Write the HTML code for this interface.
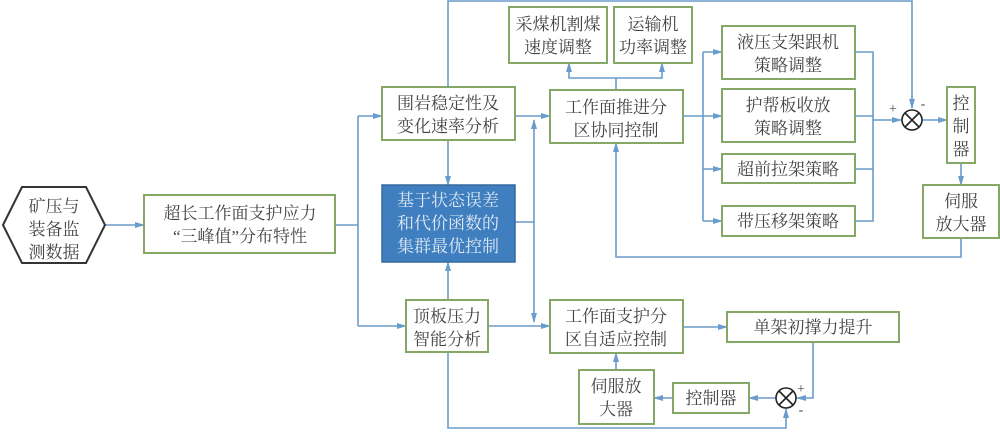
<!DOCTYPE html>
<html><head><meta charset="utf-8"><style>
body{margin:0;background:#fff;width:1000px;height:430px;overflow:hidden}
svg text{font-family:"Liberation Serif","Noto Serif CJK SC",serif;font-size:17px;fill:#444;text-anchor:middle}
.b{fill:#fff;stroke:#86a866;stroke-width:2}
.l{fill:none;stroke:#6a9ccc;stroke-width:1.6}
</style></head><body>
<svg width="1000" height="430" viewBox="0 0 1000 430">
<defs><marker id="a" markerWidth="10" markerHeight="8" refX="9" refY="4" orient="auto" markerUnits="userSpaceOnUse"><path d="M0,1 L10,4 L0,7 Z" fill="#6a9ccc"/></marker></defs>
<g class="l">
<path d="M105,225 H144" marker-end="url(#a)"/>
<path d="M335,225 H358 M358,116 V326"/>
<path d="M358,116 H382" marker-end="url(#a)"/>
<path d="M358,326 H406" marker-end="url(#a)"/>
<path d="M448,140 V185" marker-end="url(#a)"/>
<path d="M448,300 V262" marker-end="url(#a)"/>
<path d="M515,222 H534 M534,222 V120" marker-end="url(#a)"/>
<path d="M534,222 V322" marker-end="url(#a)"/>
<path d="M515,116 H550" marker-end="url(#a)"/>
<path d="M488,326 H550" marker-end="url(#a)"/>
<path d="M448,87 V1 H912 V108" marker-end="url(#a)"/>
<path d="M616,90 V78 H569 V63" marker-end="url(#a)"/>
<path d="M616,78 H662 V63" marker-end="url(#a)"/>
<path d="M683,116 H703 M703,52 V221"/>
<path d="M703,52 H722" marker-end="url(#a)"/>
<path d="M703,116 H722" marker-end="url(#a)"/>
<path d="M703,169 H722" marker-end="url(#a)"/>
<path d="M703,221 H722" marker-end="url(#a)"/>
<path d="M855,52 H873 V221 H855 M855,116 H873 M855,169 H873"/>
<path d="M873,120 H901" marker-end="url(#a)"/>
<path d="M923,120 H947" marker-end="url(#a)"/>
<path d="M961,163 V185" marker-end="url(#a)"/>
<path d="M961,238 V257 H616 V143" marker-end="url(#a)"/>
<path d="M683,327 H727" marker-end="url(#a)"/>
<path d="M813,342 V398 H797" marker-end="url(#a)"/>
<path d="M776,398 H749" marker-end="url(#a)"/>
<path d="M673,398 H654" marker-end="url(#a)"/>
<path d="M616,370 V353" marker-end="url(#a)"/>
<path d="M448,352 V428 H786 V409" marker-end="url(#a)"/>
</g>
<polygon points="3,225 22,187 86,187 105,225 86,263 22,263" fill="#fff" stroke="#333" stroke-width="2"/>
<text x="54" y="212">矿压与</text><text x="54" y="235">装备监</text><text x="54" y="258">测数据</text>
<rect class="b" x="144" y="195" width="191" height="58"/>
<text x="240" y="219">超长工作面支护应力</text><text x="240" y="242">“三峰值”分布特性</text>
<rect class="b" x="382" y="87" width="133" height="53"/>
<text x="448" y="109">围岩稳定性及</text><text x="448" y="132">变化速率分析</text>
<rect x="382" y="185" width="133" height="77" fill="#3f7fbf" stroke="#35689c" stroke-width="1.5"/>
<text x="448" y="206" style="fill:#dfe9f5">基于状态误差</text><text x="448" y="229" style="fill:#dfe9f5">和代价函数的</text><text x="448" y="252" style="fill:#dfe9f5">集群最优控制</text>
<rect class="b" x="406" y="300" width="82" height="52"/>
<text x="447" y="322">顶板压力</text><text x="447" y="345">智能分析</text>
<rect class="b" x="509" y="7" width="98" height="56"/>
<text x="558" y="30">采煤机割煤</text><text x="558" y="53">速度调整</text>
<rect class="b" x="614" y="7" width="78" height="56"/>
<text x="653" y="30">运输机</text><text x="653" y="53">功率调整</text>
<rect class="b" x="550" y="90" width="133" height="53"/>
<text x="616" y="113">工作面推进分</text><text x="616" y="136">区协同控制</text>
<rect class="b" x="722" y="26" width="133" height="53"/>
<text x="788" y="48">液压支架跟机</text><text x="788" y="71">策略调整</text>
<rect class="b" x="722" y="89" width="133" height="53"/>
<text x="788" y="111">护帮板收放</text><text x="788" y="134">策略调整</text>
<rect class="b" x="722" y="154" width="133" height="29"/>
<text x="788" y="175">超前拉架策略</text>
<rect class="b" x="722" y="206" width="133" height="30"/>
<text x="788" y="227">带压移架策略</text>
<circle cx="912" cy="120" r="10" fill="#fff" stroke="#222" stroke-width="1.6"/>
<path d="M905,113 L919,127 M919,113 L905,127" stroke="#222" stroke-width="1.6"/>
<text x="893" y="113" style="font-size:14px">+</text><text x="923" y="108" style="font-size:14px">-</text>
<rect class="b" x="947" y="87" width="28" height="76"/>
<text x="961" y="109">控</text><text x="961" y="132">制</text><text x="961" y="155">器</text>
<rect class="b" x="923" y="185" width="76" height="53"/>
<text x="961" y="207">伺服</text><text x="961" y="230">放大器</text>
<rect class="b" x="550" y="300" width="133" height="53"/>
<text x="616" y="322">工作面支护分</text><text x="616" y="345">区自适应控制</text>
<rect class="b" x="727" y="312" width="172" height="30"/>
<text x="813" y="333">单架初撑力提升</text>
<circle cx="786" cy="398" r="10" fill="#fff" stroke="#222" stroke-width="1.6"/>
<path d="M779,391 L793,405 M793,391 L779,405" stroke="#222" stroke-width="1.6"/>
<text x="801" y="393" style="font-size:14px">+</text><text x="801" y="414" style="font-size:14px">-</text>
<rect class="b" x="673" y="383" width="76" height="30"/>
<text x="711" y="404">控制器</text>
<rect class="b" x="579" y="370" width="75" height="54"/>
<text x="616" y="392">伺服放</text><text x="616" y="415">大器</text>
</svg>
</body></html>
